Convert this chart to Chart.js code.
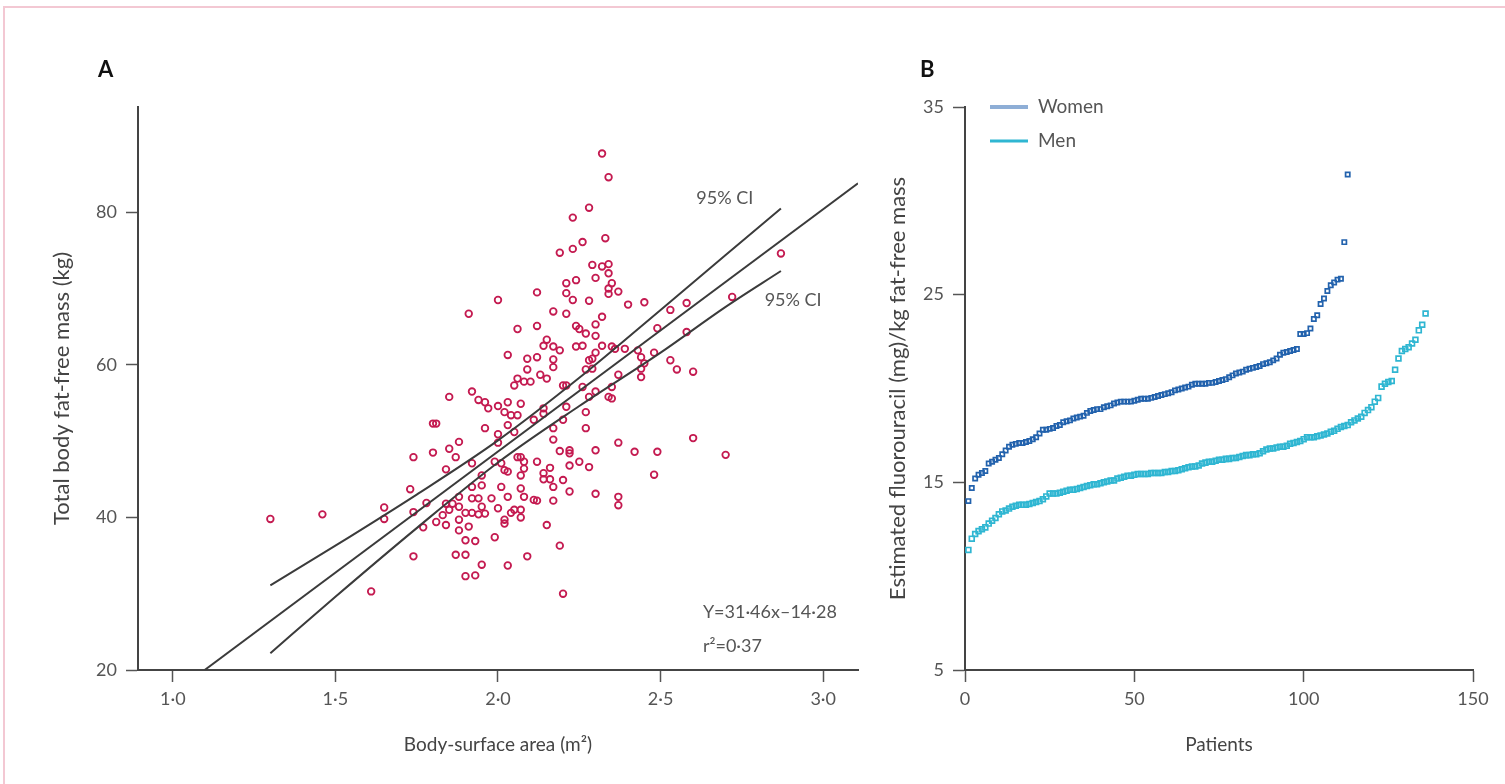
<!DOCTYPE html>
<html>
<head>
<meta charset="utf-8">
<script src="https://cdn.jsdelivr.net/npm/chart.js@4.4.0/dist/chart.umd.min.js"></script>
<style>
  body { margin: 0; background: #fff; width: 1505px; height: 784px; overflow: hidden; position: relative; }
  #frame { position: absolute; left: 3px; top: 6px; width: 1530px; height: 820px; border: 2px solid #f3c8d3; box-sizing: border-box; }
  #boxA { position: absolute; left: 0; top: 0; width: 880px; height: 784px; }
  #boxB { position: absolute; left: 880px; top: 0; width: 625px; height: 784px; }
</style>
</head>
<body>
<div id="frame"></div>
<div id="boxA"><canvas id="chartA" width="880" height="784"></canvas></div>
<div id="boxB"><canvas id="chartB" width="625" height="784"></canvas></div>
<script>
// Panel A: body-surface area (m2) vs total body fat-free mass (kg)
const bsaFfmPoints = [
  [2.32,87.7],[2.34,84.6],[2.28,80.6],[2.23,79.3],[2.33,76.6],[2.26,76.1],[2.23,75.2],[2.19,74.7],
  [2.29,73.1],[2.32,72.9],[2.34,73.2],[2.34,72.0],[2.30,71.4],[2.24,71.1],[2.21,70.7],[2.35,70.7],
  [2.34,70.0],[2.34,69.3],[2.21,69.4],[2.37,69.6],[2.12,69.5],[2.00,68.5],[2.23,68.5],[2.28,68.4],
  [2.40,67.9],[2.45,68.2],[2.72,68.9],[2.58,68.1],[2.53,67.2],[1.91,66.7],[2.17,67.0],[2.21,66.7],
  [2.32,66.3],[2.12,65.1],[2.06,64.7],[2.24,65.1],[2.25,64.7],[2.27,64.1],[2.30,65.3],[2.30,63.8],
  [2.49,64.8],[2.58,64.3],[2.15,63.3],[2.14,62.5],[2.17,62.4],[2.19,61.9],[2.24,62.4],[2.26,62.5],
  [2.32,62.5],[2.35,62.4],[2.36,62.1],[2.03,61.3],[2.09,60.8],[2.12,61.0],[2.17,60.7],[2.30,61.6],
  [2.29,60.8],[2.28,60.6],[2.39,62.1],[2.43,61.9],[2.44,61.0],[2.45,60.2],[2.48,61.6],[2.53,60.6],
  [2.55,59.4],[2.60,59.1],[2.09,59.4],[2.17,59.7],[2.27,59.4],[2.29,59.5],[2.13,58.7],[2.15,58.2],
  [2.06,58.2],[2.08,57.8],[2.10,57.8],[2.05,57.3],[2.20,57.3],[2.21,57.3],[2.26,57.1],[2.44,59.5],
  [2.44,58.4],[2.37,58.7],[2.35,57.1],[2.30,56.5],[2.28,55.8],[2.34,55.8],[2.35,55.6],[1.92,56.5],
  [1.94,55.4],[1.96,55.1],[1.97,54.3],[1.85,55.8],[2.00,54.6],[2.03,55.1],[2.02,53.8],[2.04,53.4],
  [2.07,54.9],[2.06,53.4],[2.14,54.3],[2.14,53.6],[2.21,54.5],[2.27,53.8],[2.11,52.8],[2.20,52.8],
  [2.17,51.7],[2.27,51.7],[1.96,51.7],[2.03,52.1],[2.87,74.6],
  [1.30,39.8],[1.46,40.4],[1.65,41.3],[1.65,39.8],[1.61,30.3],[1.74,47.9],[1.73,43.7],[1.74,40.7],
  [1.74,34.9],[1.80,52.3],[1.81,52.3],[1.80,48.5],[1.85,49.0],[1.88,49.9],[1.87,47.9],[1.84,46.3],
  [1.78,41.9],[1.77,38.7],[1.81,39.4],[1.83,40.3],[1.84,41.8],[1.86,41.8],[1.88,41.4],[1.85,41.0],
  [1.84,39.0],[1.88,42.7],[1.88,39.7],[1.88,38.3],[1.91,38.8],[1.90,37.0],[1.93,36.9],[1.87,35.1],
  [1.90,35.1],[1.90,32.3],[1.93,32.4],[1.95,33.8],[2.03,33.7],[2.09,34.9],[1.99,37.4],[2.02,39.7],
  [2.02,39.2],[2.07,41.0],[2.07,40.0],[2.04,40.6],[2.05,41.0],[2.00,41.2],[1.96,40.5],[1.94,40.4],
  [1.92,40.6],[1.90,40.6],[1.95,41.4],[1.92,42.5],[1.94,42.5],[1.98,42.5],[2.03,42.7],[2.08,42.7],
  [2.11,42.3],[2.07,43.8],[2.01,44.0],[1.95,44.2],[1.92,44.0],[1.92,47.1],[1.95,45.5],[2.00,50.9],
  [2.00,49.8],[1.99,47.3],[2.01,47.1],[2.02,46.2],[2.03,46.0],[2.07,45.5],[2.08,46.4],[2.06,47.9],
  [2.07,47.9],[2.08,47.3],[2.12,47.3],[2.05,51.2],
  [2.17,50.2],[2.37,49.8],[2.42,48.6],[2.49,48.6],[2.60,50.4],[2.70,48.2],[2.48,45.6],[2.30,48.8],
  [2.22,48.8],[2.22,48.4],[2.19,48.7],[2.25,47.3],[2.28,46.6],[2.22,46.8],[2.16,46.5],[2.14,45.8],
  [2.14,45.0],[2.16,45.0],[2.20,44.9],[2.17,44.0],[2.22,43.4],[2.30,43.1],[2.37,42.7],[2.37,41.6],
  [2.12,42.2],[2.17,42.2],[2.15,39.0],[2.19,36.3],[2.20,30.0]
];
// regression line and 95% CI bands
const regLine = [[1.098,20.0],[3.107,83.8]];
const ciUpper = [[1.30,31.1],[1.50,36.3],[1.75,43.0],[2.00,50.1],[2.25,58.3],[2.50,67.2],[2.70,74.4],[2.87,80.5]];
const ciLower = [[1.30,22.2],[1.50,29.6],[1.75,38.6],[2.00,47.2],[2.25,54.6],[2.50,61.6],[2.70,67.6],[2.87,72.3]];
const xTicksA = [1.0, 1.5, 2.0, 2.5, 3.0];
const yTicksA = [20, 40, 60, 80];

// Panel B: estimated fluorouracil per kg fat-free mass, sorted per patient
const womenDose = [
  14.0,14.7,15.2,15.4,15.5,15.6,16.0,16.1,16.2,16.3,16.5,16.7,16.9,17.0,17.05,17.1,17.1,17.15,17.2,17.3,
  17.4,17.6,17.8,17.8,17.85,17.9,18.0,18.05,18.2,18.25,18.3,18.4,18.45,18.5,18.55,18.7,18.8,18.85,18.9,18.9,
  19.0,19.05,19.1,19.2,19.25,19.3,19.3,19.3,19.3,19.35,19.4,19.45,19.45,19.45,19.5,19.55,19.6,19.65,19.7,19.75,
  19.8,19.9,19.95,20.0,20.05,20.1,20.2,20.25,20.25,20.25,20.25,20.3,20.3,20.35,20.4,20.45,20.5,20.6,20.7,20.8,
  20.85,20.9,21.0,21.05,21.1,21.15,21.2,21.3,21.35,21.4,21.5,21.6,21.8,21.9,21.95,22.0,22.05,22.1,22.9,22.9,
  22.95,23.2,23.7,23.9,24.5,24.8,25.2,25.5,25.65,25.8,25.85,27.8,31.4
];
const menDose = [
  11.4,12.0,12.25,12.4,12.5,12.6,12.8,12.95,13.1,13.3,13.45,13.5,13.6,13.7,13.75,13.8,13.8,13.8,13.85,13.9,
  13.95,14.0,14.1,14.25,14.4,14.4,14.4,14.45,14.5,14.55,14.6,14.6,14.65,14.7,14.75,14.8,14.85,14.9,14.9,14.95,
  15.0,15.05,15.1,15.1,15.2,15.25,15.3,15.35,15.35,15.4,15.45,15.45,15.45,15.45,15.5,15.5,15.5,15.5,15.55,15.55,
  15.6,15.6,15.65,15.7,15.75,15.8,15.85,15.85,15.9,16.0,16.05,16.1,16.1,16.15,16.2,16.2,16.25,16.25,16.3,16.3,
  16.35,16.4,16.45,16.45,16.5,16.5,16.55,16.65,16.75,16.8,16.8,16.85,16.9,16.9,16.95,17.05,17.1,17.15,17.2,17.3,
  17.4,17.4,17.4,17.45,17.5,17.55,17.6,17.7,17.75,17.85,17.95,18.0,18.05,18.2,18.3,18.4,18.5,18.7,18.85,19.0,
  19.3,19.5,20.1,20.25,20.35,20.4,21.0,21.6,22.0,22.1,22.2,22.4,22.6,23.1,23.4,24.0
];
const xTicksB = [0, 50, 100, 150];
const yTicksB = [5, 15, 25, 35];
const seriesNames = ['Women', 'Men'];

const FONT = 'Lato';
const dot = v => v.toFixed(1).replace('.', '·');
const toXY = arr => arr.map(p => ({ x: p[0], y: p[1] }));

function axis(min, max, ticks, title, titlePad, size, isX, fmt) {
  return {
    type: 'linear', min: min, max: max,
    afterBuildTicks: s => { s.ticks = ticks.map(v => ({ value: v })); },
    afterFit: s => { if (isX) s.height = size; else s.width = size; },
    border: { display: true, color: '#444', width: 2 },
    grid: { display: true, drawOnChartArea: false, drawTicks: true, tickLength: 12, tickWidth: 1.5, tickColor: '#555' },
    ticks: { color: '#555', font: { family: FONT, size: 18 }, padding: isX ? 6 : 9, callback: fmt || (v => v) },
    title: { display: true, text: title, color: '#444', font: { family: FONT, size: isX ? 19 : 22 }, padding: titlePad }
  };
}

const annotA = {
  id: 'annotA',
  afterDraw(chart) {
    const { ctx, chartArea, scales: { x, y } } = chart;
    ctx.save();
    ctx.fillStyle = '#111';
    ctx.font = 'bold 22px ' + FONT;
    ctx.textBaseline = 'middle';
    ctx.fillText('A', chartArea.left - 40, chartArea.top - 37);
    ctx.fillStyle = '#555';
    ctx.font = '18px ' + FONT;
    ctx.fillText('95% CI', x.getPixelForValue(2.61), y.getPixelForValue(81.8));
    ctx.fillText('95% CI', x.getPixelForValue(2.82), y.getPixelForValue(68.5));
    ctx.fillText('Y=31·46x–14·28', x.getPixelForValue(2.63), y.getPixelForValue(27.6));
    ctx.fillText('r²=0·37', x.getPixelForValue(2.63), y.getPixelForValue(23.1));
    ctx.restore();
  }
};

const legendB = {
  id: 'legendB',
  afterDraw(chart) {
    const { ctx, chartArea } = chart;
    ctx.save();
    ctx.fillStyle = '#111';
    ctx.font = 'bold 22px ' + FONT;
    ctx.textBaseline = 'middle';
    ctx.fillText('B', chartArea.left - 45, chartArea.top - 37);
    const cols = ['#8eaed6', '#2fb6d2'];
    const widths = [4, 3];
    ctx.font = '19px ' + FONT;
    seriesNames.forEach((name, i) => {
      const yy = chartArea.top + i * 34;
      ctx.strokeStyle = cols[i];
      ctx.lineWidth = widths[i];
      ctx.beginPath();
      ctx.moveTo(chartArea.left + 25, yy);
      ctx.lineTo(chartArea.left + 63, yy);
      ctx.stroke();
      ctx.fillStyle = '#555';
      ctx.fillText(name, chartArea.left + 73, yy);
    });
    ctx.restore();
  }
};

const lineStyle = { type: 'line', borderColor: '#3b3b3b', borderWidth: 2, pointRadius: 0, fill: false, cubicInterpolationMode: 'monotone' };

new Chart(document.getElementById('chartA'), {
  type: 'scatter',
  data: {
    datasets: [
      Object.assign({ label: 'upper CI', data: toXY(ciUpper) }, lineStyle),
      Object.assign({ label: 'regression', data: toXY(regLine) }, lineStyle),
      Object.assign({ label: 'lower CI', data: toXY(ciLower) }, lineStyle),
      {
        label: 'patients', data: toXY(bsaFfmPoints),
        pointStyle: 'circle', pointRadius: 3.3, borderWidth: 1.8,
        borderColor: '#c41a50', backgroundColor: 'rgba(255,255,255,0)'
      }
    ]
  },
  options: {
    responsive: false, animation: false,
    layout: { padding: { top: 107, right: 22, left: 0, bottom: 0 } },
    plugins: { legend: { display: false }, tooltip: { enabled: false } },
    scales: {
      x: axis(0.893, 3.107, xTicksA, 'Body-surface area (m²)', { top: 0, bottom: 28 }, 114, true, dot),
      y: axis(20, 93.8, yTicksA, 'Total body fat-free mass (kg)', { top: 49, bottom: 0 }, 138, false)
    }
  },
  plugins: [annotA]
});

new Chart(document.getElementById('chartB'), {
  type: 'scatter',
  data: {
    datasets: [
      {
        label: seriesNames[0], data: womenDose.map((v, i) => ({ x: i + 1, y: v })),
        pointStyle: 'rect', pointRadius: 3, borderWidth: 1.7,
        borderColor: '#2262ad', backgroundColor: 'rgba(255,255,255,0)'
      },
      {
        label: seriesNames[1], data: menDose.map((v, i) => ({ x: i + 1, y: v })),
        pointStyle: 'rect', pointRadius: 3.4, borderWidth: 1.7,
        borderColor: '#2fb6d2', backgroundColor: 'rgba(255,255,255,0)'
      }
    ]
  },
  options: {
    responsive: false, animation: false,
    layout: { padding: { top: 107, right: 32, left: 0, bottom: 0 } },
    plugins: { legend: { display: false }, tooltip: { enabled: false } },
    scales: {
      x: axis(0, 150, xTicksB, 'Patients', { top: 0, bottom: 28 }, 114, true),
      y: axis(5, 35, yTicksB, 'Estimated fluorouracil (mg)/kg fat-free mass', { top: 5, bottom: 0 }, 85, false)
    }
  },
  plugins: [legendB]
});
</script>
</body>
</html>
